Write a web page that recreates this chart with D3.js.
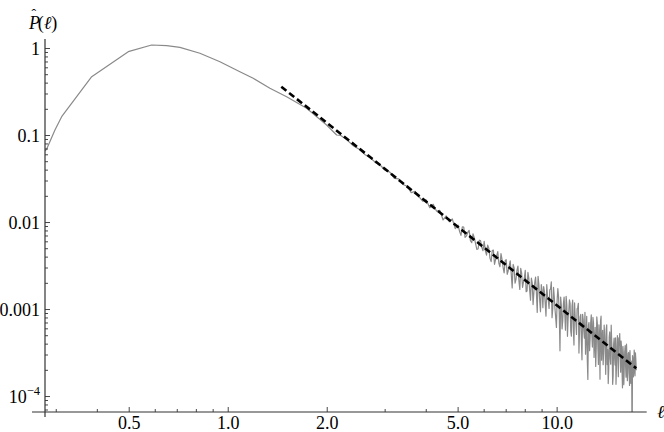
<!DOCTYPE html>
<html><head><meta charset="utf-8">
<script src="https://cdn.jsdelivr.net/npm/d3@7"></script>
<style>
body{margin:0;background:#fff}
</style>
</head><body>
<svg id="chart" width="664" height="432"></svg>
<script>
// ---- data ----
const ellValues = [
 0.2773,0.2806,0.2973,0.3116,0.3845,0.4967,0.585,0.650,0.713,0.820,0.9436,1.085,1.191,1.339,1.505,1.731,1.991,2.136,
 2.2,2.3,2.4,2.5,2.6,2.7,2.8,2.9,3.0,
 3.1,3.2,3.3,3.4,3.5,3.6,3.7,3.8,3.9,4.0,
 4.1,4.2,4.3,4.4,4.5,4.6,4.7,4.8,4.9,5.0,
 5.1,5.2,5.3,5.4,5.5,5.6,5.7,5.8,5.9,6.0,
 6.1,6.2,6.3,6.4,6.5,6.6,6.7,6.8,6.9,7.0,
 7.1,7.2,7.3,7.4,7.5,7.6,7.7,7.8,7.9,8.0,
 8.1,8.2,8.3,8.4,8.5,8.6,8.7,8.8,8.9,9.0,
 9.1,9.2,9.3,9.4,9.5,9.6,9.7,9.8,9.9,10.0,
 10.1,10.2,10.3,10.4,10.5,10.6,10.7,10.8,10.9,11.0,
 11.1,11.2,11.3,11.4,11.5,11.6,11.7,11.8,11.9,12.0,
 12.1,12.2,12.3,12.4,12.5,12.6,12.7,12.8,12.9,13.0,
 13.1,13.2,13.3,13.4,13.5,13.6,13.7,13.8,13.9,14.0,
 14.1,14.2,14.3,14.4,14.5,14.6,14.7,14.8,14.9,15.0,
 15.1,15.2,15.3,15.4,15.5,15.6,15.7,15.8,15.9,16.0,
 16.1,16.2,16.3,16.4,16.5,16.6,16.7,16.8,16.9,17.0,
 17.1,17.2,17.3,17.4
];
const probValues = [
 0.0664,0.0700,0.1157,0.1645,0.474,0.919,1.097,1.077,1.032,0.881,0.705,0.541,0.4545,0.3487,0.2792,0.2054,0.132,0.1013,
 0.100,0.0885,0.0763,0.0696,0.0606,0.0558,0.0491,0.0455,0.0399,
 0.0380,0.0322,0.0318,0.0274,0.0261,0.0221,0.0228,0.0198,0.0176,0.0182,
 0.0148,0.0162,0.0135,0.0138,0.0107,0.0119,0.0102,0.0110,0.00849,0.00932,
 0.00711,0.00884,0.00701,0.00811,0.00587,0.00664,0.00492,0.00626,0.00519,0.00606,
 0.00421,0.00503,0.00355,0.00483,0.00376,0.00463,0.00310,0.00374,0.00264,0.00375,
 0.00279,0.00363,0.00177,0.00301,0.00224,0.00316,0.00170,0.00262,0.00207,0.00282,
 0.00163,0.00231,0.00128,0.00202,0.00159,0.00236,0.000927,0.00195,0.000945,0.00168,
 0.00184,0.00117,0.00193,0.00127,0.00168,0.00208,0.00103,0.00141,0.000801,0.00128,
 0.00140,0.000335,0.00112,0.000740,0.00139,0.000578,0.00113,0.000793,0.00129,0.000567,
 0.00110,0.000632,0.00119,0.000712,0.00102,0.00118,0.000589,0.000879,0.000264,0.000770,
 0.000470,0.000306,0.000834,0.000157,0.000710,0.000472,0.000867,0.000370,0.000698,0.000455,
 0.000222,0.000821,0.000378,0.000668,0.000158,0.000838,0.000432,0.000232,0.000661,0.000344,
 0.000594,0.000233,0.000141,0.000484,0.000273,0.000660,0.000332,0.000171,0.000470,0.000230,
 0.000138,0.000379,0.000279,0.000471,0.000530,0.000190,0.000359,0.000126,0.000304,0.000217,
 0.000386,0.000167,0.000294,0.000189,0.000321,0.000134,0.000250,0.000164,0.00002,0.000271,
 0.000189,0.000294,0.000317,0.000200
];
// extra samples between the points above, in the noisy tail
const tailMidEll = [
 5.05,5.15,5.25,5.35,5.45,5.55,5.65,5.75,5.85,5.95,
 6.05,6.15,6.25,6.35,6.45,6.55,6.65,6.75,6.85,6.95,
 7.05,7.15,7.25,7.35,7.45,7.55,7.65,7.75,7.85,7.95,
 8.05,8.15,8.25,8.35,8.45,8.55,8.65,8.75,8.85,8.95,
 9.05,9.15,9.25,9.35,9.45,9.55,9.65,9.75,9.85,9.95,
 10.05,10.15,10.25,10.35,10.45,10.55,10.65,10.75,10.85,10.95,
 11.05,11.15,11.25,11.35,11.45,11.55,11.65,11.75,11.85,11.95,
 12.05,12.15,12.25,12.35,12.45,12.55,12.65,12.75,12.85,12.95,
 13.05,13.15,13.25,13.35,13.45,13.55,13.65,13.75,13.85,13.95,
 14.05,14.15,14.25,14.35,14.45,14.55,14.65,14.75,14.85,14.95,
 15.05,15.15,15.25,15.35,15.45,15.55,15.65,15.75,15.85,15.95,
 16.05,16.15,16.25,16.35,16.45,16.55,16.65,16.75,16.85,16.95,
 17.05,17.15,17.25,17.35
];
const tailMidProb = [
 0.00793,0.00894,0.00675,0.00769,0.00617,0.00740,0.00572,0.00496,0.00620,0.00474,
 0.00476,0.00549,0.00387,0.00477,0.00331,0.00415,0.00340,0.00440,0.00304,0.00364,
 0.00254,0.00319,0.00262,0.00330,0.00201,0.00284,0.00218,0.00298,0.00179,0.00232,
 0.00160,0.00267,0.00168,0.00229,0.00114,0.00205,0.00155,0.00241,0.00128,0.00194,
 0.00105,0.00160,0.000840,0.00143,0.00103,0.00173,0.000806,0.00180,0.00102,0.000622,
 0.00174,0.000901,0.00139,0.000600,0.00117,0.000899,0.00142,0.000492,0.000956,0.00118,
 0.000494,0.00128,0.000390,0.000797,0.000518,0.00105,0.000316,0.000822,0.000434,0.000879,
 0.000572,0.000929,0.000483,0.000265,0.000661,0.000337,0.000714,0.000509,0.000811,0.000281,
 0.000625,0.000367,0.000693,0.000234,0.000502,0.000736,0.000262,0.000576,0.000334,0.000491,
 0.000180,0.000666,0.000346,0.000207,0.000552,0.000235,0.000441,0.000138,0.000390,0.000283,
 0.000473,0.000223,0.000501,0.000169,0.000391,0.000280,0.000435,0.000199,0.000377,0.000137,
 0.000323,0.000224,0.000401,0.000152,0.000313,0.000221,0.000337,0.000142,0.000255,0.000296,
 0.000168,0.000341,0.000173,0.000265
];
const fitEll = [1.45, 17.4];
const fitProb = [0.364, 0.000211];
const xDomain = [0.2773, 18.72];
const yDomain = [6.64e-5, 1.286];
const xMajorTicks = [0.5, 1, 2, 5, 10];
const xTickLabels = ["0.5", "1.0", "2.0", "5.0", "10.0"];
const yMajorTicks = [1, 0.1, 0.01, 0.001, 0.0001];
const yTickLabels = ["1", "0.1", "0.01", "0.001", "10^-4"];

// ---- layout ----
const FONT = "'Liberation Serif', 'Times New Roman', Times";
const L = 45, R = 646.7, T = 39, B = 412;
const svg = d3.select("#chart").attr("font-family", FONT);
const x = d3.scaleLog().domain(xDomain).range([L, R]);
const y = d3.scaleLog().domain(yDomain).range([B, T]);

svg.append("defs").append("clipPath").attr("id","clip")
  .append("rect").attr("x", L).attr("y", T).attr("width", R - L + 2).attr("height", B - T);

const pts = ellValues.map((e, i) => [e, probValues[i]])
  .concat(tailMidEll.map((e, i) => [e, tailMidProb[i]]))
  .sort((a, b) => a[0] - b[0]);
const line = d3.line().x(d => x(d[0])).y(d => y(d[1]));

svg.append("path").datum(pts).attr("clip-path","url(#clip)")
  .attr("d", line).attr("fill","none").attr("stroke","#8a8a8a")
  .attr("stroke-width",1.2).attr("stroke-linejoin","round");

svg.append("path").datum(fitEll.map((e,i)=>[e, fitProb[i]]))
  .attr("d", line).attr("fill","none").attr("stroke","#000")
  .attr("stroke-width",2.6).attr("stroke-dasharray","6.5 3.5");

// ---- axes ----
const ax = svg.append("g").attr("stroke","#333").attr("stroke-width",1.2);
ax.append("line").attr("x1", 32).attr("x2", R).attr("y1", B).attr("y2", B);
ax.append("line").attr("x1", L).attr("x2", L).attr("y1", T).attr("y2", B + 5);

const xMinor = x.ticks().filter(v => !xMajorTicks.some(m => Math.abs(m - v) < 1e-9));
const yMinor = y.ticks().filter(v => !yMajorTicks.some(m => Math.abs(m - v) / m < 1e-6));

const tk = svg.append("g").attr("stroke","#333").attr("stroke-width",0.9);
tk.selectAll(".xM").data(xMajorTicks).enter().append("line")
  .attr("x1", d => x(d)).attr("x2", d => x(d)).attr("y1", B).attr("y2", B - 5);
tk.selectAll(".xm").data(xMinor).enter().append("line")
  .attr("x1", d => x(d)).attr("x2", d => x(d)).attr("y1", B).attr("y2", B - 3);
tk.selectAll(".yM").data(yMajorTicks).enter().append("line")
  .attr("y1", d => y(d)).attr("y2", d => y(d)).attr("x1", L).attr("x2", L + 5);
tk.selectAll(".ym").data(yMinor).enter().append("line")
  .attr("y1", d => y(d)).attr("y2", d => y(d)).attr("x1", L).attr("x2", L + 3);

svg.selectAll(".xl").data(xMajorTicks).enter().append("text")
  .attr("font-family", FONT)
  .attr("x", d => x(d)).attr("y", 428.8).attr("text-anchor","middle")
  .attr("font-size", 18).text((d,i) => xTickLabels[i]);

yMajorTicks.forEach((v, i) => {
  const lab = yTickLabels[i];
  const t = svg.append("text").attr("font-family", FONT).attr("x", 40).attr("y", y(v) + 6)
    .attr("text-anchor","end").attr("font-size", 18);
  if (lab.includes("^")) {
    const [base, exp] = lab.split("^");
    t.append("tspan").text(base);
    t.append("tspan").attr("dy", -8).attr("font-size", 12.5).text(exp.replace("-", "\u2212"));
  } else t.text(lab);
});

// axis titles
svg.append("text").attr("font-family", FONT).attr("x", 657).attr("y", 418).attr("font-size", 18)
  .attr("font-style","italic").text("\u2113");
const yl = svg.append("text").attr("font-family", FONT).attr("x", 29).attr("y", 29).attr("font-size", 18);
yl.append("tspan").attr("font-style","italic").text("P");
yl.append("tspan").attr("dx", -8.5).attr("dy", -10).attr("font-size", 14).text("\u02C6");
yl.append("tspan").attr("dx", 1.5).attr("dy", 10).text("(");
yl.append("tspan").attr("font-style","italic").text("\u2113");
yl.append("tspan").text(")");
</script>
</body></html>
